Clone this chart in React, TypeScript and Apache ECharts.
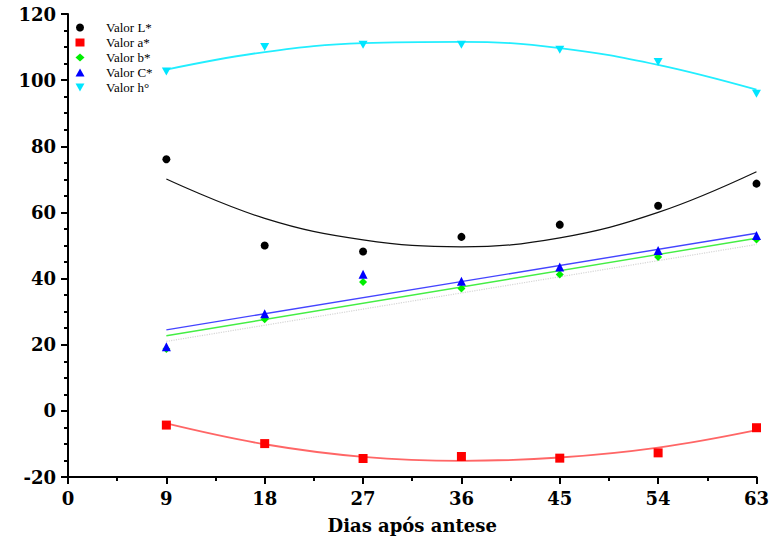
import React, { useEffect, useRef } from "react";
import * as echarts from "echarts";

const days = [9, 18, 27, 36, 45, 54, 63];
const valorL = [76.1, 50.0, 48.2, 52.6, 56.3, 62.0, 68.7];
const valorA = [-4.3, -9.9, -14.4, -13.8, -14.3, -12.7, -5.1];
const valorB = [18.7, 27.7, 39.0, 37.0, 41.2, 46.5, 51.8];
const valorC = [19.4, 29.4, 41.3, 39.2, 43.5, 48.5, 53.0];
const valorH = [102.6, 110.0, 110.7, 110.7, 109.2, 105.5, 95.9];

const fitL = [70.1, 58.2, 51.7, 49.6, 52.3, 60.0, 72.3];
const fitA = [-3.8, -10.1, -13.9, -15.1, -14.1, -11.1, -5.8];
const fitH = [103.2, 108.5, 111.2, 111.6, 109.7, 104.6, 97.1];
const fitDays = [9, 63];
const fitB = [22.7, 52.2];
const fitC = [24.5, 53.7];
const fitGray = [21.0, 50.3];

const legendNames = ["Valor L*", "Valor a*", "Valor b*", "Valor C*", "Valor h°"];

const pair = (xs: number[], ys: number[]) => xs.map((x, i) => [x, ys[i]]);

const axisFont = {
  fontFamily: "'DejaVu Serif', serif",
  fontWeight: "bold" as const,
  fontSize: 18,
  color: "#000",
};

const invTriangle = "path://M0,0L10,0L5,9Z";

export default function App() {
  const ref = useRef<HTMLDivElement>(null);
  useEffect(() => {
    const chart = echarts.init(ref.current!, null, { renderer: "svg" });
    const scatter = (name: string, data: number[], color: string, symbol: string, size: any) => ({
      name,
      type: "scatter",
      data: pair(days, data),
      symbol,
      symbolSize: size,
      itemStyle: { color, opacity: 1 },
      z: 5,
    });
    const fitLine = (xs: number[], ys: number[], color: string, width: number, smooth: boolean, type: any = "solid") => ({
      type: "line",
      data: pair(xs, ys),
      smooth: smooth ? 0.4 : false,
      symbol: "none",
      lineStyle: { color, width, type },
      silent: true,
      z: 2,
    });
    chart.setOption({
      animation: false,
      backgroundColor: "#fff",
      grid: { left: 68, right: 12, top: 14, bottom: 59.5, containLabel: false },
      legend: {
        data: legendNames,
        orient: "vertical",
        left: 70.5,
        top: 16,
        itemWidth: 9,
        itemHeight: 8,
        itemGap: 2,
        textStyle: {
          fontFamily: "'Liberation Serif', serif",
          fontSize: 13,
          lineHeight: 13,
          color: "#000",
          padding: [0, 0, 0, 16.5],
        },
      },
      xAxis: {
        type: "value",
        min: 0,
        max: 63,
        interval: 9,
        name: "Dias após antese",
        nameLocation: "middle",
        nameGap: 39,
        nameTextStyle: axisFont,
        axisLine: { onZero: false, lineStyle: { color: "#000", width: 2 } },
        axisTick: { length: 7, lineStyle: { color: "#000", width: 2 } },
        minorTick: { show: true, splitNumber: 2, length: 4, lineStyle: { color: "#000", width: 2 } },
        axisLabel: { ...axisFont, margin: 12 },
        splitLine: { show: false },
      },
      yAxis: {
        type: "value",
        min: -20,
        max: 120,
        interval: 20,
        axisLine: { show: true, onZero: false, lineStyle: { color: "#000", width: 2 } },
        axisTick: { show: true, length: 7, lineStyle: { color: "#000", width: 2 } },
        minorTick: { show: true, splitNumber: 4, length: 4, lineStyle: { color: "#000", width: 2 } },
        axisLabel: { ...axisFont, margin: 12 },
        splitLine: { show: false },
      },
      series: [
        fitLine(days, fitL, "#111111", 1.2, true),
        fitLine(days, fitA, "#ff6666", 1.8, true),
        fitLine(days, fitH, "#22eeff", 1.8, true),
        fitLine(fitDays, fitGray, "#d6d6d6", 1.2, false, "dotted"),
        fitLine(fitDays, fitB, "#44ee44", 1.4, false),
        fitLine(fitDays, fitC, "#4444ff", 1.4, false),
        scatter("Valor L*", valorL, "#000000", "circle", 8),
        scatter("Valor a*", valorA, "#ff0000", "rect", 9),
        scatter("Valor b*", valorB, "#00ee00", "diamond", 8),
        scatter("Valor C*", valorC, "#0000ff", "triangle", 9),
        scatter("Valor h°", valorH, "#00e5ff", invTriangle, [9, 8]),
      ],
    });
    return () => chart.dispose();
  }, []);
  return <div ref={ref} style={{ position: "absolute", left: 0, top: 0, width: 772, height: 539 }} />;
}
